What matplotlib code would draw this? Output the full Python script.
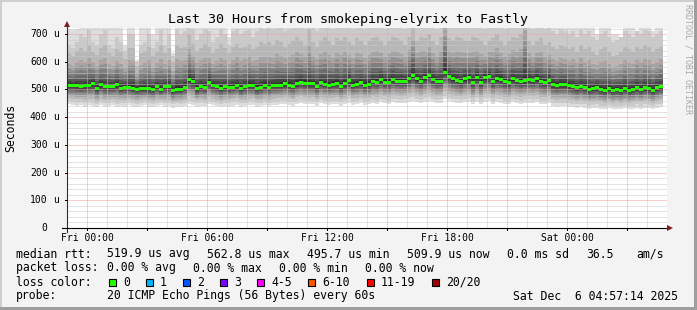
"""
Smokeping style latency graph: last 30 hours from smokeping-elyrix to Fastly.
"""
import numpy as np
import matplotlib
matplotlib.use("Agg")
import matplotlib.pyplot as plt
from matplotlib.patches import Polygon, Rectangle

plt.rcParams.update({
    "font.family": ["DejaVu Sans Mono"],
    "font.size": 8,
})

W, H = 697, 310
STEP_H = 0.2          # rra step = 12 minutes (in hours)
SPAN_H = 30.0         # Thu 23:00 -> Sat 05:00
Y_TOP = 722.0         # upper limit in us

# --------------------------------------------------------------------------- #
# Data
# --------------------------------------------------------------------------- #
tick_hours = [1, 7, 13, 19, 25]
tick_labels = ["Fri 00:00", "Fri 06:00", "Fri 12:00", "Fri 18:00", "Sat 00:00"]
y_ticks = [0, 100, 200, 300, 400, 500, 600, 700]

# median rtt per step (us)
median_us = [
    513.6, 513.6, 513.6, 510.0, 513.6, 513.6, 520.9, 504.0, 517.3, 510.0,
    510.0, 510.0, 517.3, 504.0, 508.8, 508.8, 505.2, 500.4, 502.8, 502.8,
    502.8, 499.2, 510.0, 499.2, 510.0,
    510.0, 495.6, 500.4, 500.4, 507.6, 535.3, 528.1, 502.8, 510.0, 506.4,
    526.9, 514.9, 511.2, 504.0, 510.0, 507.6, 508.8, 513.6, 504.0, 510.0,
    514.9, 514.9, 504.0, 507.6, 514.9,
    508.8, 513.6, 513.6, 516.1, 520.9, 516.1, 512.5, 520.9, 526.9, 523.3,
    520.9, 520.9, 512.5, 524.5, 519.7, 516.1, 519.7, 523.3, 512.5, 520.9,
    531.7, 516.1, 519.7, 524.5, 516.1,
    518.5, 529.3, 526.9, 535.3, 526.9, 526.9, 535.3, 530.5, 530.5, 530.5,
    538.9, 549.7, 538.9, 530.5, 542.5, 549.7, 535.3, 530.5, 530.5, 562.8,
    546.1, 538.9, 534.1, 528.1, 538.9,
    542.5, 524.5, 542.5, 524.5, 542.5, 546.1, 528.1, 538.9, 535.3, 528.1,
    524.5, 538.9, 531.7, 528.1, 531.7, 535.3, 531.7, 538.9, 528.1, 524.5,
    531.7, 517.3, 513.6, 517.3, 517.3,
    513.6, 510.0, 506.4, 510.0, 506.4, 499.2, 502.8, 506.4, 499.2, 495.7,
    502.8, 495.7, 499.2, 495.7, 502.8, 495.7, 499.2, 506.4, 499.2, 506.4,
    502.8, 495.7, 506.4, 509.9,
]

# slowest ping per step (values above the upper limit are clipped)
ping_max_us = [
    718, 716, 718, 740, 740, 740, 740, 740, 740, 740, 740, 740, 740, 740, 660,
    740, 740, 605, 740, 740, 740, 700, 740, 740, 740,
    740, 630, 740, 740, 740, 740, 740, 740, 740, 740, 740, 740, 740, 740, 740,
    690, 740, 740, 740, 740, 740, 740, 740, 740, 740,
    740, 740, 740, 740, 740, 740, 740, 740, 740, 740, 740, 740, 740, 740, 740,
    740, 740, 740, 740, 740, 712, 740, 740, 740, 740,
    740, 740, 740, 740, 740, 740, 740, 740, 740, 740, 740, 740, 740, 740, 740,
    740, 740, 740, 740, 740, 740, 740, 740, 740, 740,
    740, 740, 740, 740, 740, 740, 740, 740, 740, 740, 740, 740, 740, 740, 740,
    740, 740, 740, 740, 740, 740, 740, 740, 740, 740,
    740, 740, 740, 740, 740, 740, 740, 700, 740, 740, 740, 700, 700, 690, 740,
    740, 740, 705, 740, 740, 740, 710, 740, 740,
]

# 19th of 20 pings per step
ping_p19_us = [
    660, 650, 670, 700, 690, 715, 670, 660, 700, 715, 660, 650, 690, 670, 640,
    700, 700, 600, 660, 670, 700, 650, 670, 715, 660,
    700, 620, 720, 700, 710, 780, 720, 680, 700, 720, 710, 670, 690, 720, 700,
    660, 710, 720, 700, 710, 720, 690, 710, 730, 720,
    730, 720, 745, 730, 710, 720, 735, 760, 735, 720, 790, 730, 710, 735, 760,
    735, 720, 745, 735, 760, 730, 720, 745, 735, 720,
    735, 750, 760, 735, 720, 735, 760, 750, 735, 720, 760, 800, 735, 760, 750,
    780, 735, 720, 760, 850, 750, 735, 760, 750, 735,
    735, 760, 750, 735, 720, 735, 750, 780, 735, 720, 735, 760, 750, 790, 850,
    735, 720, 735, 750, 720, 730, 710, 700, 720, 710,
    700, 710, 690, 715, 700, 710, 690, 680, 700, 710, 690, 670, 680, 690, 710,
    700, 690, 710, 700, 715, 710, 690, 700, 710,
]

# 18th of 20 pings per step
ping_p18_us = [
    630, 620, 640, 650, 640, 660, 635, 625, 650, 660, 630, 620, 645, 635, 610,
    650, 650, 585, 630, 640, 655, 620, 635, 660, 630,
    650, 600, 660, 650, 655, 700, 665, 640, 650, 665, 655, 630, 645, 665, 650,
    630, 655, 665, 650, 655, 665, 645, 655, 670, 665,
    670, 660, 680, 670, 655, 665, 675, 690, 675, 660, 720, 670, 655, 675, 690,
    675, 660, 685, 675, 690, 670, 660, 685, 675, 660,
    675, 685, 690, 675, 660, 675, 690, 685, 675, 660, 690, 740, 675, 690, 685,
    700, 675, 660, 690, 800, 685, 675, 690, 685, 675,
    675, 690, 685, 675, 660, 675, 685, 700, 675, 660, 675, 690, 685, 700, 800,
    675, 660, 675, 685, 660, 670, 655, 645, 660, 655,
    645, 655, 635, 660, 645, 655, 635, 625, 645, 655, 635, 620, 625, 635, 655,
    645, 635, 655, 645, 660, 655, 635, 645, 655,
]

# 2nd of 20 pings per step
ping_p2_us = [
    458, 455, 452, 456, 450, 455, 452, 448, 455, 450, 452, 456, 448, 452, 450,
    455, 450, 448, 452, 455, 450, 448, 452, 455, 450,
    452, 446, 450, 448, 452, 460, 456, 450, 454, 452, 458, 455, 452, 448, 452,
    450, 454, 456, 450, 452, 455, 456, 450, 452, 455,
    452, 455, 456, 458, 460, 456, 454, 460, 462, 460, 458, 460, 454, 462, 458,
    456, 458, 460, 454, 458, 464, 456, 458, 462, 456,
    458, 462, 460, 466, 462, 460, 466, 464, 462, 464, 468, 472, 466, 462, 468,
    472, 466, 462, 464, 476, 470, 466, 464, 462, 466,
    468, 458, 468, 458, 468, 470, 460, 466, 464, 460, 458, 466, 462, 460, 462,
    464, 462, 466, 460, 458, 462, 452, 450, 452, 452,
    450, 448, 446, 448, 446, 442, 444, 446, 442, 440, 444, 440, 442, 440, 444,
    440, 442, 446, 442, 446, 444, 440, 446, 448,
]

# fastest ping per step
ping_min_us = [
    446, 444, 440, 445, 438, 444, 440, 436, 444, 438, 440, 445, 436, 440, 438,
    444, 438, 436, 440, 444, 438, 436, 440, 444, 438,
    440, 434, 438, 436, 440, 448, 444, 438, 442, 440, 446, 444, 440, 436, 440,
    438, 442, 444, 438, 440, 444, 444, 438, 440, 444,
    440, 444, 444, 446, 448, 444, 442, 448, 450, 448, 446, 448, 442, 450, 446,
    444, 446, 448, 442, 446, 452, 444, 446, 450, 444,
    446, 450, 448, 454, 450, 448, 454, 452, 450, 452, 456, 460, 454, 450, 456,
    460, 454, 450, 452, 464, 458, 454, 452, 450, 454,
    456, 446, 456, 446, 456, 458, 448, 454, 452, 448, 446, 454, 450, 448, 450,
    452, 450, 454, 448, 446, 450, 440, 438, 440, 440,
    438, 436, 434, 436, 434, 430, 432, 434, 430, 428, 432, 428, 430, 428, 432,
    428, 430, 434, 430, 434, 432, 428, 434, 436,
]

# relative position of inner ping pairs between median and p18 (bands 4..10)
# and between median and p2 (bands 3..10)
upper_frac = [0.68, 0.54, 0.42, 0.31, 0.22, 0.14, 0.07]
lower_frac = [0.80, 0.66, 0.54, 0.44, 0.35, 0.26, 0.17, 0.09]

loss_labels = ["0", "1", "2", "3", "4-5", "6-10", "11-19", "20/20"]
loss_colors = ["#26ff00", "#00b8ff", "#0059ff", "#7e00ff",
               "#ff00ff", "#ff5500", "#ff0000", "#a00000"]
loss_x = [108, 145, 182, 219, 256, 307, 366, 431]

# --------------------------------------------------------------------------- #
# Figure
# --------------------------------------------------------------------------- #
fig = plt.figure(figsize=(W / 100, H / 100), dpi=100, facecolor="#f3f3f3")


def fx(x):
    return x / W


def fy(y):
    return 1 - y / H


ax = fig.add_axes([fx(67), fy(228), 600 / W, 200 / H])
ax.set_facecolor("white")
ax.set_xlim(0, SPAN_H)
ax.set_ylim(0, Y_TOP)
for s in ax.spines.values():
    s.set_visible(False)
ax.tick_params(left=False, bottom=False, labelleft=False, labelbottom=False)

med = np.array(median_us)
pmax = np.array(ping_max_us, float)
p19 = np.array(ping_p19_us, float)
p18 = np.array(ping_p18_us, float)
p2 = np.array(ping_p2_us, float)
pmin = np.array(ping_min_us, float)
n = len(med)
xe = np.arange(n + 1) * STEP_H


def ext(a):
    return np.append(a, a[-1])


# smoke: pairs of sorted pings, darker towards the median
lows = [med - lf * (med - p2) for lf in lower_frac]
highs = [p18] + [med + uf * (p18 - med) for uf in upper_frac]
bands = [(pmin, pmax), (p2, p19)] + list(zip(lows, highs))
half = 10
for i, (lo, hi) in enumerate(bands, start=1):
    c = int(190 / half * (half - i)) + 50
    col = "#%02x%02x%02x" % (c, c, c)
    ax.fill_between(xe, ext(lo), ext(hi), step="post", color=col, lw=0,
                    antialiased=False, zorder=1)

# grid on top of the smoke
dot = (0, (1, 1))
minor_x = np.arange(1, SPAN_H, 1.0)
ax.vlines([h for h in minor_x if h % 3 != 1], 0, Y_TOP, colors="#c8c8c8",
          linestyles=dot, lw=0.72, zorder=2)
ax.hlines([v for v in range(20, 721, 20) if v % 100], 0, SPAN_H,
          colors="#c8c8c8", linestyles=dot, lw=0.72, zorder=2)
ax.vlines(np.arange(1, SPAN_H, 3.0), 0, Y_TOP, colors="#f2a0a0",
          linestyles=dot, lw=0.72, zorder=2.1)
ax.hlines(y_ticks[1:], 0, SPAN_H, colors="#f2a0a0", linestyles=dot,
          lw=0.72, zorder=2.1)

# median line coloured by loss (all 0 loss)
sw = 5.4
ax.bar(xe[:-1], 2 * sw, bottom=med - sw, width=STEP_H, align="edge",
       color=loss_colors[0], lw=0, zorder=3)

# axes with arrows
ax.plot([-0.25, SPAN_H + 0.1], [0, 0], color="black", lw=0.8,
        clip_on=False, zorder=4)
ax.plot([0, 0], [-14, Y_TOP + 10], color="#303030", lw=0.8,
        clip_on=False, zorder=4)
for h in np.arange(1, SPAN_H, 3.0):
    ax.plot([h, h], [0, -8], color="black", lw=0.72, clip_on=False, zorder=4)
for v in y_ticks:
    ax.plot([-0.12, 0], [v, v], color="black", lw=0.72, clip_on=False,
            zorder=4)
arrow_col = "#7f1f1f"
fig.add_artist(Polygon([(fx(667), fy(225)), (fx(673), fy(228)),
                        (fx(667), fy(231))], closed=True,
                       transform=fig.transFigure, color=arrow_col, lw=0))
fig.add_artist(Polygon([(fx(64), fy(27)), (fx(67), fy(21)),
                        (fx(70), fy(27))], closed=True,
                       transform=fig.transFigure, color=arrow_col, lw=0))

# tick labels
xtr = ax.get_xaxis_transform()
for h, lab in zip(tick_hours, tick_labels):
    ax.text(h, -0.05, lab, transform=xtr, ha="center", va="center",
            fontsize=7)
ytr = ax.get_yaxis_transform()
for v in y_ticks:
    ax.text(-0.0323, v, str(v), transform=ytr, ha="right", va="center",
            fontsize=7)
    if v:
        ax.text(-0.0128, v, "u", transform=ytr, ha="right", va="center",
                fontsize=7)

# texts
fig.text(fx(348), fy(19), "Last 30 Hours from smokeping-elyrix to Fastly",
         ha="center", va="center", fontsize=9.6)
fig.text(fx(11), fy(128), "Seconds", rotation=90, ha="center", va="center",
         fontsize=8.3)
fig.text(fx(688), fy(4), "RRDTOOL / TOBI OETIKER", rotation=270, ha="center",
         va="top", fontsize=6, color="#a8a8a8")

fs = 8.3
rows = [
    (254, [(16, "median rtt:"), (107, "519.9 us avg"), (207, "562.8 us max"),
           (307, "495.7 us min"), (407, "509.9 us now"), (507, "0.0 ms sd"),
           (586, "36.5"), (636, "am/s")]),
    (268, [(16, "packet loss:"), (107, "0.00 % avg"), (193, "0.00 % max"),
           (279, "0.00 % min"), (365, "0.00 % now")]),
    (282, [(16, "loss color:")]),
    (296, [(16, "probe:"), (107, "20 ICMP Echo Pings (56 Bytes) every 60s"),
           (513, "Sat Dec  6 04:57:14 2025")]),
]
for y, items in rows:
    for x, s in items:
        fig.text(fx(x), fy(y), s, ha="left", va="center", fontsize=fs)

for x, lab, col in zip(loss_x, loss_labels, loss_colors):
    fig.add_artist(Rectangle((fx(x + 0.5), fy(286)), 7 / W, 7 / H,
                             transform=fig.transFigure, facecolor=col,
                             edgecolor="black", lw=0.8))
    fig.text(fx(x + 15), fy(282), lab, ha="left", va="center", fontsize=fs)

# frame
fig.add_artist(Rectangle((0, 0), fx(2), 1, transform=fig.transFigure,
                         color="#cfcfcf", lw=0))
fig.add_artist(Rectangle((0, fy(2)), 1, 2 / H, transform=fig.transFigure,
                         color="#cfcfcf", lw=0))
fig.add_artist(Rectangle((fx(694), 0), 3 / W, 1, transform=fig.transFigure,
                         color="#9e9e9e", lw=0))
fig.add_artist(Rectangle((0, 0), 1, 3 / H, transform=fig.transFigure,
                         color="#9e9e9e", lw=0))

fig.savefig("out.png", dpi=100, facecolor=fig.get_facecolor())
